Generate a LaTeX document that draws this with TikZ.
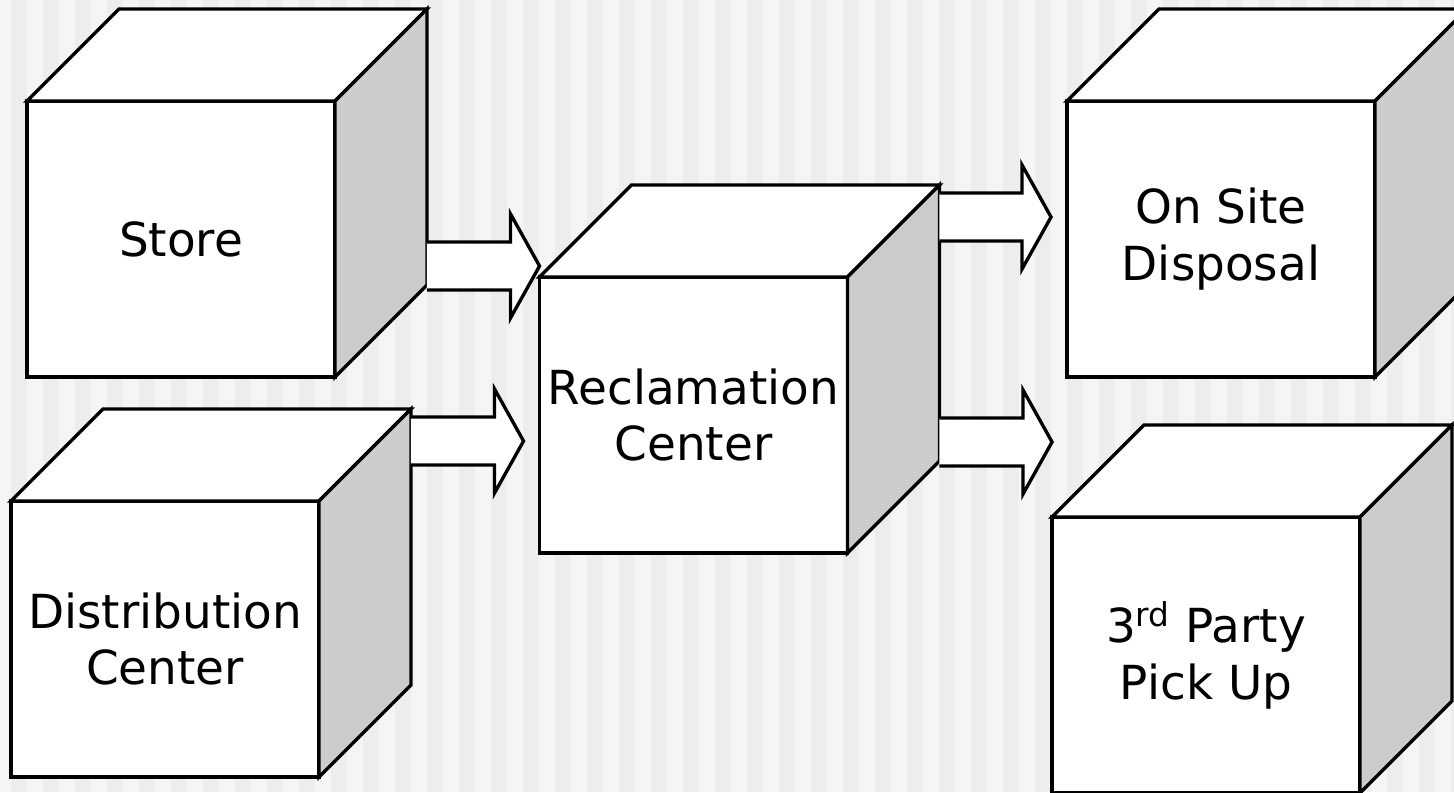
\documentclass[tikz,border=0pt]{standalone}
\usepackage{fontspec}
\setmainfont{DejaVu Sans}
\usetikzlibrary{calc}
\colorlet{sideGray}{black!20!white}
\colorlet{stripeLight}{black!4!white}
\colorlet{stripeDark}{black!7!white}
\tikzset{
  outline/.style={draw, line width=1.9pt},
  boxface/.style={outline, fill=white, minimum width=6.16cm, minimum height=5.52cm,
    inner sep=0pt, outer sep=0pt, align=center, font=\fontsize{26.7}{32.4}\selectfont}
}
% top and right side of a box
\newcommand{\boxsides}[1]{%
  \draw[outline, fill=white] (#1.north west) -- ++(92,-92) -- ($(#1.north east)+(92,-92)$) -- (#1.north east) -- cycle;
  \draw[outline, fill=sideGray] (#1.north east) -- ++(92,-92) -- ($(#1.south east)+(92,-92)$) -- (#1.south east) -- cycle;
}
% hollow arrow from #1 to the tip #2
\newcommand{\hollowarrow}[2]{%
  \filldraw[outline, fill=white] ($(#1)+(0,-24)$) -- ($(#2)+(-29,-24)$) -- ($(#2)+(-29,-52)$) -- (#2)
    -- ($(#2)+(-29,52)$) -- ($(#2)+(-29,24)$) -- ($(#1)+(0,24)$);
}

\begin{document}
\begin{tikzpicture}[x=0.02cm, y=-0.02cm]
    \useasboundingbox (0,0) rectangle (1454,792);
    \clip (0,0) rectangle (1454,792);
    \fill[stripeLight] (0,0) rectangle (1454,792);
    \foreach \k in {0,...,45}
        \fill[stripeDark] ({11+32*\k},0) rectangle ++(16,792);

    \node[boxface] (store) at (181,239) {Store};
    \boxsides{store}
    \node[boxface] (dist) at (165,639) {Distribution\\Center};
    \boxsides{dist}
    \node[boxface] (recl) at (693.5,415) {Reclamation\\Center};
    \boxsides{recl}
    \node[boxface] (site) at (1221,239) {On Site\\Disposal};
    \boxsides{site}
    \node[boxface] (third) at (1206,655) {3\textsuperscript{rd} Party\\Pick Up};
    \boxsides{third}

    \coordinate (storeOut) at ($(store.east)+(92,27)$);
    \coordinate (reclInA) at (recl.west |- storeOut);
    \coordinate (distOut) at ($(dist.north east)+(92,-60)$);
    \coordinate (reclInB) at ($(recl.west |- distOut)+(-16,0)$);
    \coordinate (reclOutA) at ($(recl.north east)+(92,-60)$);
    \coordinate (reclOutB) at ($(recl.east)+(92,27)$);
    \coordinate (siteIn) at ($(site.west |- reclOutA)+(-16,0)$);
    \coordinate (thirdIn) at (third.west |- reclOutB);

    \hollowarrow{storeOut}{reclInA}
    \hollowarrow{distOut}{reclInB}
    \hollowarrow{reclOutA}{siteIn}
    \hollowarrow{reclOutB}{thirdIn}
\end{tikzpicture}
\end{document}
